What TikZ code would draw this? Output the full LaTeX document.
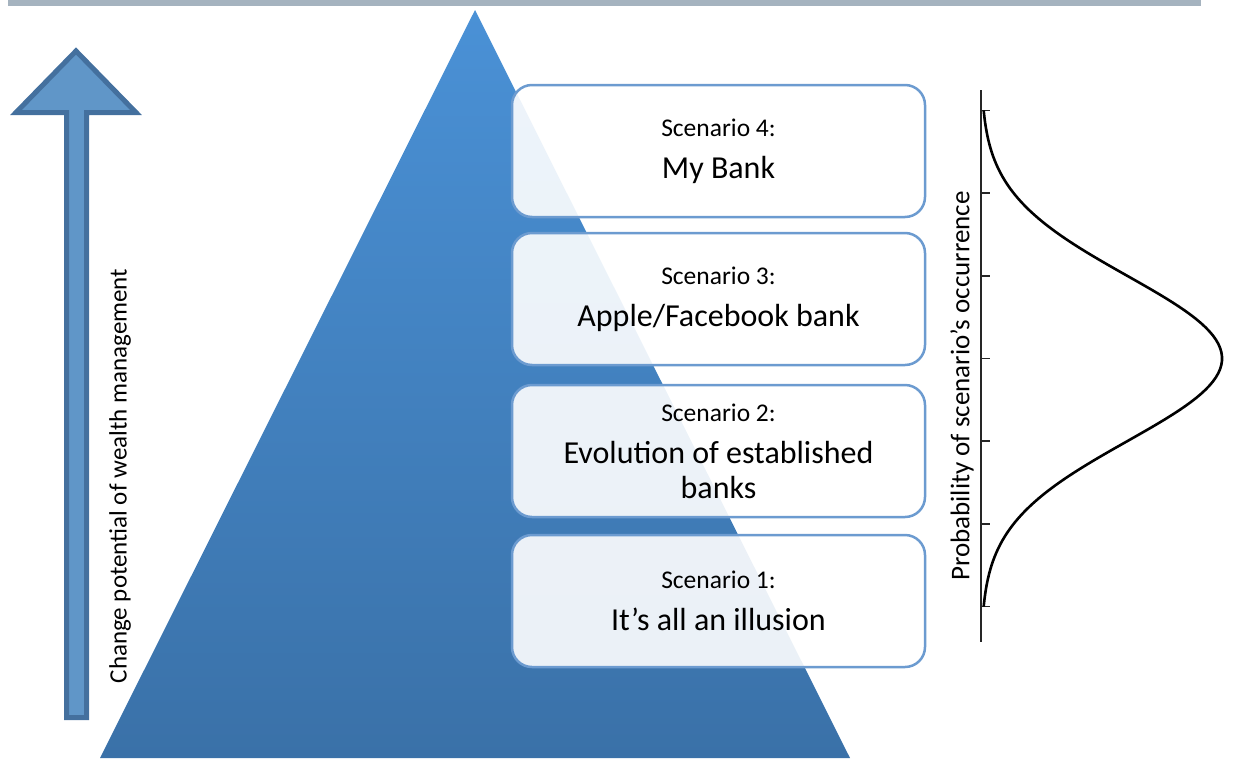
\documentclass[tikz,border=0pt]{standalone}
\usepackage{fontspec}
\setmainfont{Carlito}
\usepackage{tikz}

\definecolor{barGray}{HTML}{A5B3BF}
\definecolor{triTop}{HTML}{4A91D6}
\definecolor{triBot}{HTML}{3A71A8}
\definecolor{arrowFill}{HTML}{6096C8}
\definecolor{arrowLine}{HTML}{44709E}
\definecolor{boxLine}{HTML}{6C9BD0}

\tikzset{
  scenbox/.style={draw=boxLine, line width=2.5pt, rounded corners=20pt,
    fill=white, fill opacity=0.9, text opacity=1,
    minimum width=413pt, minimum height=132pt, align=center,
    font=\fontsize{32}{35}\selectfont},
  sidelabel/.style={rotate=90, font=\fontsize{25}{30}\selectfont}
}
\newcommand{\scen}[1]{{\fontsize{25.5}{30}\selectfont Scenario #1:}}

\begin{document}
\begin{tikzpicture}[x=1pt,y=-1pt]
  \useasboundingbox (0,0) rectangle (1234,758);
  % Top bar
  \fill[barGray] (8,0) rectangle (1201,6);
  % Pyramid
  \shade[top color=triTop, bottom color=triBot] (475,10) -- (850,758) -- (100,758) -- cycle;
  % Big arrow
  \draw[arrowLine, fill=arrowFill, line width=5pt, line join=miter]
    (76,51) -- (136,112.5) -- (86.5,112.5) -- (86.5,717.5)
    -- (66.5,717.5) -- (66.5,112.5) -- (16,112.5) -- cycle;
  \node[sidelabel] (change) at (120,476) {Change potential of wealth management};
  % Scenario boxes
  \node[scenbox] (s4) at (718.5,151) {\scen{4}\\[7pt]My Bank};
  \node[scenbox] (s3) at (718.5,299) {\scen{3}\\[7pt]Apple/Facebook bank};
  \node[scenbox] (s2) at (718.5,451) {\scen{2}\\[7pt]Evolution of established\\banks};
  \node[scenbox] (s1) at (718.5,601) {\scen{1}\\[7pt]It’s all an illusion};
  % Probability axis and ticks
  \draw[line width=1.5pt, black!85] (981,90) -- (981,642);
  \draw[line width=1.5pt, black!85] (981,110.4) -- (990,110.4);
  \draw[line width=1.5pt, black!85] (981,193.1) -- (990,193.1);
  \draw[line width=1.5pt, black!85] (981,275.8) -- (990,275.8);
  \draw[line width=1.5pt, black!85] (981,358.5) -- (990,358.5);
  \draw[line width=1.5pt, black!85] (981,441.2) -- (990,441.2);
  \draw[line width=1.5pt, black!85] (981,523.9) -- (990,523.9);
  \draw[line width=1.5pt, black!85] (981,606.6) -- (990,606.6);
  % Bell curve
  \draw[line width=2.6pt, domain=-3:3, samples=120] plot ({981+241*exp(-\x*\x/2)},{358.5+82.7*\x});
  \node[sidelabel, font=\fontsize{27}{32}\selectfont] (prob) at (962,386) {Probability of scenario’s occurrence};
\end{tikzpicture}
\end{document}
